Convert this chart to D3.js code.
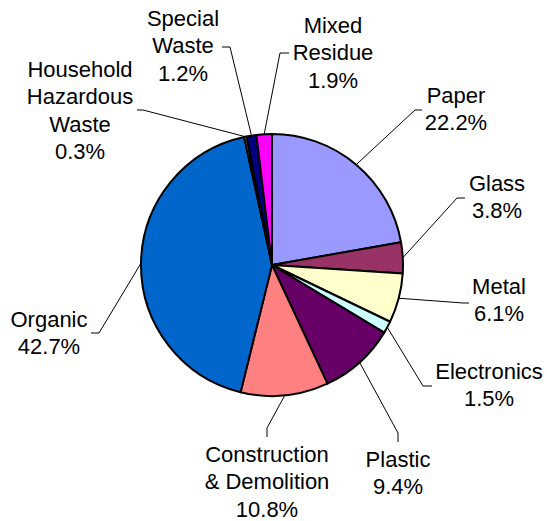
<!DOCTYPE html>
<html>
<head>
<meta charset="utf-8">
<script src="https://cdn.jsdelivr.net/npm/d3@7"></script>
<style>
  body { margin: 0; background: #fff; }
  text { font-family: "Liberation Sans", Arial, sans-serif; font-size: 22px; fill: #000; }
</style>
</head>
<body>
<div id="chart"></div>
<script>
// data
var categories = ["Paper", "Glass", "Metal", "Electronics", "Plastic",
  "Construction\n& Demolition", "Organic", "Household\nHazardous\nWaste",
  "Special\nWaste", "Mixed\nResidue"];
var shares = [22.2, 3.8, 6.1, 1.5, 9.4, 10.8, 42.7, 0.3, 1.2, 1.9];
var colors = ["#9999FF", "#993366", "#FFFFCC", "#CCFFFF", "#660066",
  "#FF8080", "#0066CC", "#CCCCFF", "#000080", "#FF00FF"];

// label layout: text centre x, first baseline y, leader elbow points (label side)
var labelPos = [
  {x: 456, y: 103, pts: [[422, 110], [415, 110]]},
  {x: 497, y: 191, pts: [[465, 198], [457, 198]]},
  {x: 499, y: 294, pts: [[469, 303], [463, 303]]},
  {x: 489, y: 379, pts: [[432, 386], [423, 386]]},
  {x: 398, y: 467, pts: [[398, 442], [398, 433]]},
  {x: 267, y: 462, pts: [[267, 437], [267, 428]]},
  {x: 49,  y: 327, pts: [[91, 333], [99, 333]]},
  {x: 80,  y: 77,  pts: [[137, 110], [143, 110]]},
  {x: 183, y: 26,  pts: [[222, 47], [230, 47]]},
  {x: 333, y: 33,  pts: [[289, 53], [280, 53]]}
];
var lineH = 27.3;

var width = 547, height = 521;
var cx = 272, cy = 265, r = 131;

var svg = d3.select("#chart")
  .append("svg")
  .attr("width", width)
  .attr("height", height);

var pie = d3.pie()
  .sort(null)
  .startAngle(0)
  .endAngle(2 * Math.PI)
  .value(function(d) { return d; });

var arcs = pie(shares);

var arc = d3.arc()
  .innerRadius(0)
  .outerRadius(r);

var g = svg.append("g")
  .attr("transform", "translate(" + cx + "," + cy + ")");

// slices
g.selectAll("path.slice")
  .data(arcs)
  .enter()
  .append("path")
  .attr("class", "slice")
  .attr("d", arc)
  .attr("fill", function(d, i) { return colors[i]; })
  .attr("stroke", "#000")
  .attr("stroke-width", 2)
  .attr("stroke-linejoin", "round");

// leader lines
var line = d3.line();
svg.selectAll("path.leader")
  .data(arcs)
  .enter()
  .append("path")
  .attr("class", "leader")
  .attr("fill", "none")
  .attr("stroke", "#000")
  .attr("stroke-width", 1)
  .attr("d", function(d, i) {
    var a = (d.startAngle + d.endAngle) / 2;
    var edge = [cx + r * Math.sin(a), cy - r * Math.cos(a)];
    return line(labelPos[i].pts.concat([edge]));
  });

// labels
var labels = svg.selectAll("text.label")
  .data(arcs)
  .enter()
  .append("text")
  .attr("class", "label")
  .attr("text-anchor", "middle");

labels.each(function(d, i) {
  var lines = categories[i].split("\n").concat([d3.format(".1f")(shares[i]) + "%"]);
  var t = d3.select(this);
  lines.forEach(function(s, k) {
    t.append("tspan")
      .attr("x", labelPos[i].x)
      .attr("y", labelPos[i].y + k * lineH)
      .text(s);
  });
});
</script>
</body>
</html>
